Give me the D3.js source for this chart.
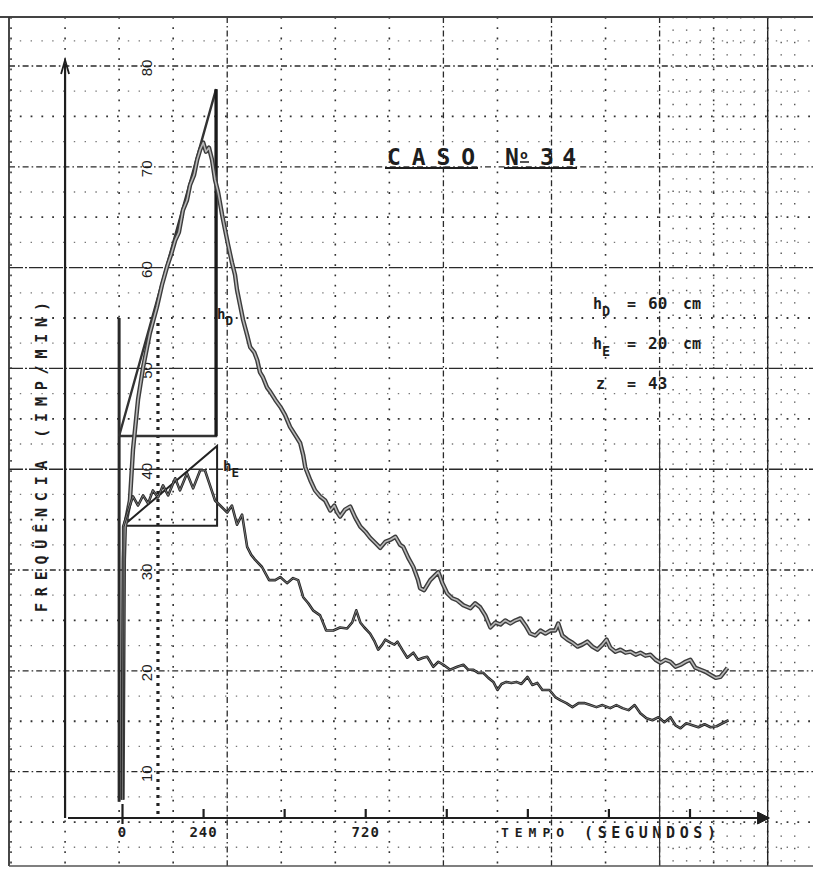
<!DOCTYPE html>
<html><head><meta charset="utf-8">
<script src="https://cdn.jsdelivr.net/npm/d3@7"></script>
<style>html,body{margin:0;padding:0;background:#fff}svg{display:block}</style>
</head><body>
<script>
// ---- data ----
const timeTicks = [0,240,480,720,960,1200,1440,1680];
const timeTickLabels = ["0","240","","720","","","",""];
const freqTicks = [10,20,30,40,50,60,70,80];

const timeD = [0,4,7,22,31,46,61,81,102,117,132,144,156,167,179,191,200,212,221,230,239,247,256,265,274,283,295,304,313,324,333,339,348,357,369,378,390,399,407,416,428,437,452,467,481,496,511,526,535,541,556,570,585,600,615,627,636,644,659,674,689,704,719,733,748,763,778,793,808,822,831,846,861,875,881,893,911,923,935,947,961,976,991,1009,1030,1044,1059,1074,1089,1104,1119,1133,1148,1163,1178,1193,1207,1222,1237,1252,1267,1281,1290,1302,1317,1332,1347,1361,1376,1391,1406,1421,1433,1444,1459,1474,1489,1504,1519,1533,1548,1563,1578,1593,1607,1622,1637,1652,1667,1681,1696,1711,1726,1741,1756,1770,1782,1791];
const freqD = [7.2,31.0,34.3,36.9,41.9,46.9,50.1,53.5,56.1,58.3,60.1,61.3,62.7,63.5,65.7,66.7,68.2,69.2,70.7,71.7,72.4,71.5,71.9,70.7,68.7,67.5,65.2,63.7,62.2,60.5,59.3,57.8,56.3,54.8,53.3,52.1,51.6,50.8,49.6,49.1,48.1,47.7,46.9,46.2,45.4,44.2,43.4,42.6,41.4,40.2,38.9,37.9,37.3,36.9,35.9,36.4,35.7,35.3,36.0,36.3,35.2,34.3,33.8,33.2,32.7,32.2,32.8,33.0,33.3,32.5,32.3,31.2,30.3,29.0,28.2,28.0,29.0,29.4,29.8,28.7,27.7,27.2,27.0,26.5,26.2,26.7,26.3,25.5,24.3,24.8,24.6,25.0,24.7,25.0,25.2,24.5,23.7,23.5,24.0,23.7,24.0,24.0,24.7,23.5,23.1,22.8,22.4,22.6,22.9,22.4,22.1,22.6,23.1,22.3,21.9,22.1,21.8,21.9,21.6,21.8,21.5,21.6,21.1,20.8,21.1,20.9,20.4,20.6,20.9,21.1,20.3,20.1,19.9,19.6,19.3,19.4,19.9,20.3];

const timeE = [0,2,16,31,46,61,76,90,105,120,135,156,170,191,209,230,244,259,274,289,310,324,339,354,369,381,393,413,434,452,467,487,505,520,535,550,564,585,603,624,644,665,680,692,704,716,733,745,757,769,778,793,805,814,828,843,861,875,890,902,920,935,950,970,991,1009,1024,1039,1053,1068,1083,1098,1110,1122,1136,1151,1166,1181,1199,1213,1228,1243,1264,1281,1296,1314,1332,1350,1367,1385,1403,1421,1444,1462,1480,1498,1516,1533,1551,1569,1587,1604,1622,1637,1652,1669,1687,1705,1723,1741,1759,1776,1794];
const freqE = [7.2,34.3,35.8,37.3,36.4,37.4,36.6,37.9,37.2,38.4,37.4,39.1,37.9,39.6,38.1,39.9,39.9,38.4,36.9,36.4,35.7,36.4,34.5,35.5,32.3,31.5,31.0,30.3,29.0,29.0,29.3,28.7,29.2,29.0,27.3,26.7,26.0,25.5,24.0,24.0,24.3,24.2,24.8,26.0,24.8,24.3,23.7,23.0,22.1,22.6,23.1,22.8,22.6,22.9,22.1,21.3,21.8,21.1,21.3,21.4,20.4,20.9,20.6,20.1,20.4,20.6,20.1,20.1,19.8,19.8,19.3,18.9,18.1,18.7,18.9,18.8,18.9,18.7,19.4,18.6,18.8,18.1,18.1,17.4,17.1,16.8,16.4,16.8,16.8,16.6,16.4,16.6,16.3,16.6,16.3,16.1,16.6,15.8,15.3,15.1,15.4,14.9,15.4,14.6,14.3,14.8,14.6,14.4,14.7,14.4,14.5,14.8,15.1];

// construction triangles (time, freq)
const triDTime = [-10, 277, 277, -10];
const triDFreq = [43.3, 77.7, 43.3, 43.3];
const triETime = [2, 280, 280, 2];
const triEFreq = [34.4, 42.3, 34.4, 34.4];
const leftLineTime = [-10, -10];
const leftLineFreq = [55.0, 7.0];
const dottedLineTime = [105, 105];
const dottedLineFreq = [54.5, 5.4];

const W = 813, H = 870;
const svg = d3.select("body").append("svg").attr("width", W).attr("height", H);
svg.append("rect").attr("width", W).attr("height", H).attr("fill", "#fff");

const xs = d3.scaleLinear().domain([0, 1680]).range([122.5, 690]);
const ys = d3.scaleLinear().domain([5.4, 80]).range([818, 66]);
const ink = "#1e1e1e";
const mono = "'DejaVu Sans Mono', 'Liberation Mono', monospace";

// ---- graph paper grid ----
const grid = svg.append("g");
for (let v = 0; v <= 85; v += 2.5) {
  const y = ys(v);
  if (y < 16 || y > 866) continue;
  let dash, w, col;
  if (v % 10 === 0) {
    if (v === 40 || v === 50 || v === 60) { dash = "14,2,2,2"; w = 1.4; col = "#2a2a2a"; }
    else { dash = "6,3,1.6,3"; w = 1.3; col = "#2a2a2a"; }
  } else if (v % 5 === 0) { dash = "1.8,9"; w = 1.8; col = "#333"; }
  else { dash = "1.4,9.4"; w = 1.3; col = "#777"; }
  grid.append("line").attr("x1", 9).attr("x2", W).attr("y1", y).attr("y2", y)
    .attr("stroke", col).attr("stroke-width", w).attr("stroke-dasharray", dash);
}
const majorV = [310, 950, 1270, 1590];
for (let t = -330; t <= 1950; t += 160) {
  const x = xs(t);
  if (x < 5 || x > W) continue;
  let dash = "1.8,8.5", col = "#333", w = 1.6;
  if (majorV.includes(t)) { dash = "6,3,1.6,3"; col = "#2a2a2a"; w = 1.3; }
  grid.append("line").attr("x1", x).attr("x2", x).attr("y1", 17).attr("y2", 866)
    .attr("stroke", col).attr("stroke-width", w).attr("stroke-dasharray", dash);
}
grid.append("line").attr("x1", xs(1910)).attr("x2", xs(1910)).attr("y1", 17).attr("y2", 866)
  .attr("stroke", "#222").attr("stroke-width", 1.4);
grid.append("line").attr("x1", xs(1590)).attr("x2", xs(1590)).attr("y1", 440).attr("y2", 866)
  .attr("stroke", "#333").attr("stroke-width", 1.2);
for (let t = 1630; t <= 2000; t += 40) {
  const x = xs(t);
  if (x > W) continue;
  grid.append("line").attr("x1", x).attr("x2", x).attr("y1", 17).attr("y2", 866)
    .attr("stroke", "#555").attr("stroke-width", 1.4).attr("stroke-dasharray", "1.4,11");
}
svg.append("line").attr("x1", 0).attr("x2", W).attr("y1", 17).attr("y2", 17).attr("stroke", "#444").attr("stroke-width", 2);
svg.append("line").attr("x1", 9).attr("x2", 9).attr("y1", 17).attr("y2", 866).attr("stroke", "#333").attr("stroke-width", 1.8);
svg.append("line").attr("x1", 9).attr("x2", W).attr("y1", 866).attr("y2", 866).attr("stroke", "#555").attr("stroke-width", 1.6);

// ---- axes ----
const yAxisX = xs(-170);
svg.append("line").attr("x1", yAxisX).attr("x2", yAxisX).attr("y1", ys(5.4)).attr("y2", 64)
  .attr("stroke", ink).attr("stroke-width", 2.2);
svg.append("path").attr("d", `M${yAxisX-4},${74} L${yAxisX},${60} L${yAxisX+4},${74}`)
  .attr("fill", "none").attr("stroke", ink).attr("stroke-width", 1.8);
const axisY = ys(5.4);
svg.append("line").attr("x1", 68).attr("x2", xs(1905)).attr("y1", axisY).attr("y2", axisY)
  .attr("stroke", ink).attr("stroke-width", 2.2);
svg.append("path").attr("d", `M${xs(1880)},${axisY-6} L${xs(1915)},${axisY} L${xs(1880)},${axisY+6} Z`)
  .attr("fill", ink).attr("stroke", ink).attr("stroke-width", 1);

svg.append("g").selectAll("line").data(timeTicks).join("line")
  .attr("x1", d => xs(d)).attr("x2", d => xs(d))
  .attr("y1", d => d === 0 ? axisY - 14 : axisY - 9).attr("y2", d => d === 0 ? axisY + 6 : axisY)
  .attr("stroke", ink).attr("stroke-width", 2.2);
svg.append("g").selectAll("text").data(timeTicks.map((t,i)=>({t, s: timeTickLabels[i]})).filter(d => d.s))
  .join("text")
  .attr("x", d => xs(d.t)).attr("y", 837).attr("text-anchor", "middle")
  .attr("font-family", mono).attr("font-weight", "bold").attr("font-size", 14)
  .attr("letter-spacing", 1).attr("fill", ink).text(d => d.s);

svg.append("text").attr("x", 501).attr("y", 837).attr("font-family", mono).attr("font-weight", "bold")
  .attr("font-size", 13).attr("textLength", 63).attr("lengthAdjust", "spacing").attr("fill", ink).text("TEMPO");
svg.append("text").attr("x", 584).attr("y", 838).attr("font-family", mono).attr("font-weight", "bold")
  .attr("font-size", 15).attr("textLength", 132).attr("lengthAdjust", "spacing").attr("fill", ink).text("(SEGUNDOS)");

svg.append("g").selectAll("text").data(freqTicks).join("text")
  .attr("transform", d => `translate(152,${ys(d) + 2}) rotate(-90)`)
  .attr("text-anchor", "middle")
  .attr("font-family", "'Liberation Sans', Arial, sans-serif").attr("font-size", 15)
  .attr("fill", ink).text(d => d);

svg.append("text").attr("transform", `translate(47,612) rotate(-90)`)
  .attr("font-family", mono).attr("font-weight", "bold").attr("font-size", 15)
  .attr("textLength", 310).attr("lengthAdjust", "spacing").attr("fill", ink)
  .text("FREQÜÊNCIA (IMP/MIN)");

// ---- construction lines ----
const line = d3.line().x(d => xs(d[0])).y(d => ys(d[1]));
svg.append("path").datum(leftLineTime.map((t,i)=>[t, leftLineFreq[i]]))
  .attr("d", line).attr("stroke", "#2a2a2a").attr("stroke-width", 3).attr("fill", "none");
svg.append("path").datum(dottedLineTime.map((t,i)=>[t, dottedLineFreq[i]]))
  .attr("d", line).attr("stroke", "#222").attr("stroke-width", 3.2).attr("fill", "none")
  .attr("stroke-dasharray", "3,5");
svg.append("path").datum(triDTime.map((t,i)=>[t, triDFreq[i]]))
  .attr("d", line).attr("stroke", "#333").attr("stroke-width", 2.4).attr("fill", "none");
svg.append("path").datum([[277, 77.7],[277, 43.3]])
  .attr("d", line).attr("stroke", "#1a1a1a").attr("stroke-width", 3.2).attr("fill", "none");
svg.append("path").datum(triETime.map((t,i)=>[t, triEFreq[i]]))
  .attr("d", line).attr("stroke", "#222").attr("stroke-width", 2).attr("fill", "none");

// ---- data curves ----
const dataD = timeD.map((t,i)=>[t, freqD[i]]).filter(d => d[1] !== undefined);
const dataE = timeE.map((t,i)=>[t, freqE[i]]).filter(d => d[1] !== undefined);
svg.append("path").datum(dataD).attr("d", line).attr("fill", "none")
  .attr("stroke", "#3c3c3c").attr("stroke-width", 4.4).attr("stroke-linejoin", "round");
svg.append("path").datum(dataD).attr("d", line).attr("fill", "none")
  .attr("stroke", "#b8b8b8").attr("stroke-width", 1.6).attr("stroke-linejoin", "round");
svg.append("path").datum(dataE).attr("d", line).attr("fill", "none")
  .attr("stroke", "#222").attr("stroke-width", 2.6).attr("stroke-linejoin", "round");
svg.append("path").datum(dataE).attr("d", line).attr("fill", "none")
  .attr("stroke", "#9a9a9a").attr("stroke-width", 0.7).attr("stroke-linejoin", "round");

// ---- labels near triangles ----
function hLabel(x, y, sub, size) {
  const t = svg.append("text").attr("x", x).attr("y", y).attr("font-family", mono)
    .attr("font-weight", "bold").attr("font-size", size).attr("fill", ink);
  t.append("tspan").text("h");
  t.append("tspan").attr("dy", size * 0.45).attr("font-size", size * 0.9).text(sub);
  return t;
}
hLabel(217, 319, "D", 14);
hLabel(223, 471, "E", 14);

// ---- title ----
svg.append("text").attr("x", 387).attr("y", 165).attr("font-family", mono).attr("font-weight", "bold")
  .attr("font-size", 23).attr("textLength", 88).attr("lengthAdjust", "spacing").attr("fill", ink).text("CASO");
svg.append("text").attr("x", 505).attr("y", 165).attr("font-family", mono).attr("font-weight", "bold")
  .attr("font-size", 23).attr("fill", ink).text("N");
svg.append("text").attr("x", 520).attr("y", 159).attr("font-family", mono).attr("font-weight", "bold")
  .attr("font-size", 13).attr("fill", ink).text("o");
svg.append("line").attr("x1", 520).attr("x2", 529).attr("y1", 162).attr("y2", 162).attr("stroke", ink).attr("stroke-width", 1.5);
svg.append("text").attr("x", 540).attr("y", 165).attr("font-family", mono).attr("font-weight", "bold")
  .attr("font-size", 23).attr("textLength", 36).attr("lengthAdjust", "spacing").attr("fill", ink).text("34");
svg.append("line").attr("x1", 385).attr("x2", 478).attr("y1", 168).attr("y2", 168).attr("stroke", ink).attr("stroke-width", 2);
svg.append("line").attr("x1", 504).attr("x2", 577).attr("y1", 168).attr("y2", 168).attr("stroke", ink).attr("stroke-width", 2);

// ---- parameter annotations ----
const params = [
  {y: 309, sub: "D", val: "60", unit: "cm"},
  {y: 349, sub: "E", val: "20", unit: "cm"}
];
params.forEach(p => {
  hLabel(593, p.y, p.sub, 15);
  svg.append("text").attr("x", 627).attr("y", p.y).attr("font-family", mono).attr("font-weight", "bold")
    .attr("font-size", 15).attr("fill", ink).text("=");
  svg.append("text").attr("x", 648).attr("y", p.y).attr("font-family", mono).attr("font-weight", "bold")
    .attr("font-size", 16).attr("fill", ink).text(p.val);
  svg.append("text").attr("x", 683).attr("y", p.y).attr("font-family", mono).attr("font-weight", "bold")
    .attr("font-size", 15).attr("fill", ink).text(p.unit);
});
svg.append("text").attr("x", 596).attr("y", 389).attr("font-family", mono).attr("font-weight", "bold")
  .attr("font-size", 15).attr("fill", ink).text("z");
svg.append("text").attr("x", 627).attr("y", 389).attr("font-family", mono).attr("font-weight", "bold")
  .attr("font-size", 15).attr("fill", ink).text("=");
svg.append("text").attr("x", 648).attr("y", 389).attr("font-family", mono).attr("font-weight", "bold")
  .attr("font-size", 16).attr("fill", ink).text("43");
</script>
</body></html>
